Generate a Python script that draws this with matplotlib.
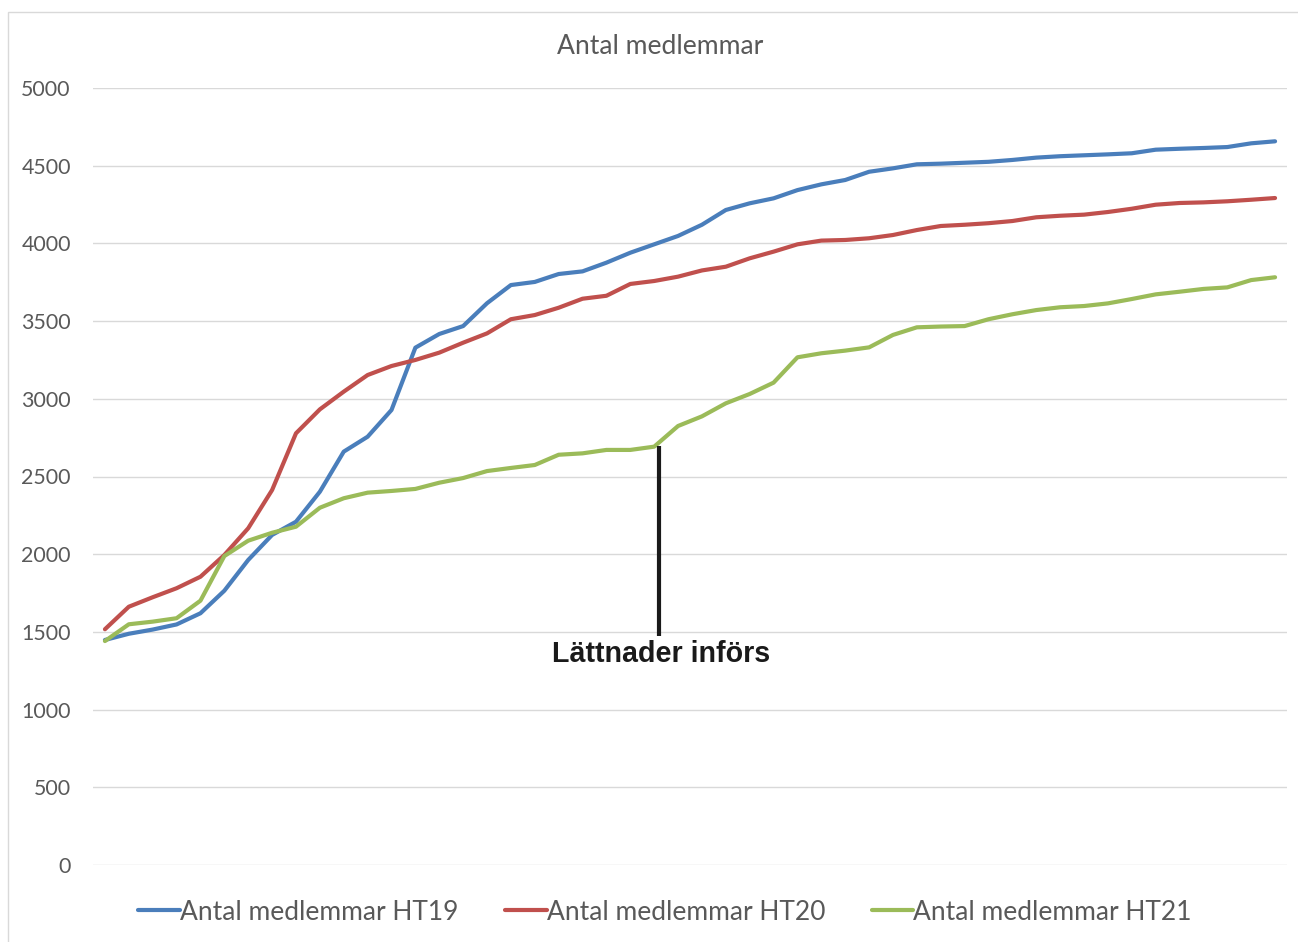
import matplotlib
matplotlib.use("Agg")
import matplotlib.pyplot as plt
import matplotlib.patches as mpatches
import numpy as np

title = "Antal medlemmar"
series_names = ["Antal medlemmar HT19", "Antal medlemmar HT20", "Antal medlemmar HT21"]
colors = ["#4A7EBB", "#C0504D", "#9BBB59"]

ht19 = [1448, 1488, 1515, 1548, 1620, 1765, 1963, 2124, 2209, 2402,
        2660, 2756, 2928, 3329, 3417, 3468, 3615, 3732, 3752, 3803,
        3820, 3876, 3940, 3994, 4048, 4120, 4215, 4258, 4290, 4343,
        4380, 4408, 4461, 4483, 4509, 4513, 4519, 4525, 4537, 4552,
        4561, 4567, 4573, 4580, 4603, 4609, 4614, 4620, 4644, 4657]
ht20 = [1517, 1662, 1723, 1781, 1855, 1995, 2167, 2413, 2778, 2932,
        3046, 3153, 3211, 3250, 3297, 3361, 3421, 3512, 3539, 3586,
        3644, 3663, 3739, 3758, 3786, 3826, 3850, 3904, 3947, 3994,
        4018, 4022, 4033, 4054, 4086, 4112, 4120, 4130, 4144, 4168,
        4178, 4185, 4202, 4223, 4249, 4260, 4264, 4271, 4281, 4292]
ht21 = [1441, 1549, 1566, 1588, 1701, 1988, 2087, 2138, 2177, 2299,
        2360, 2396, 2407, 2420, 2460, 2490, 2535, 2555, 2574, 2640,
        2649, 2671, 2671, 2692, 2825, 2887, 2971, 3031, 3104, 3267,
        3293, 3310, 3331, 3411, 3460, 3465, 3468, 3512, 3544, 3571,
        3589, 3597, 3614, 3642, 3672, 3689, 3707, 3717, 3764, 3782]
yticks = [0, 500, 1000, 1500, 2000, 2500, 3000, 3500, 4000, 4500, 5000]

annot_text = "Lättnader införs"
annot_x = 23.2
annot_y0, annot_y1 = 1474, 2695

plt.rcParams['font.family'] = ['Lato', 'DejaVu Sans']

W, H = 1298, 942
fig = plt.figure(figsize=(W / 100, H / 100), dpi=100)
ax = fig.add_axes([93 / W, (H - 865) / H, (1287 - 93) / W, (865 - 88) / H])

x = np.arange(len(ht19))
for vals, c, name in zip([ht19, ht20, ht21], colors, series_names):
    ax.plot(x, vals, color=c, lw=3.0, label=name, solid_capstyle='round',
            solid_joinstyle='round', zorder=3)

ax.set_xlim(-0.5, len(ht19) - 0.5)
ax.set_ylim(0, 5000)
ax.set_yticks(yticks)
ax.set_yticklabels([str(v) for v in yticks])
ax.set_xticks([])
ax.grid(axis='y', color='#D9D9D9', lw=1.0, zorder=0)
ax.tick_params(axis='y', length=0, pad=16, labelsize=15.4, labelcolor='#595959')
for s in ax.spines.values():
    s.set_visible(False)

# annotation
ax.plot([annot_x, annot_x], [annot_y0, annot_y1], color='#1a1a1a', lw=3.0,
        solid_capstyle='butt', zorder=4)
ax.text(annot_x + 0.08, annot_y0 - 28, annot_text, ha='center', va='top',
        fontsize=20.6, fontweight='bold', color='#1a1a1a',
        family=['Liberation Sans', 'DejaVu Sans'], zorder=5)

fig.text(660 / W, 1 - 47 / H, title, ha='center', va='center',
         fontsize=19.1, color='#595959')

leg = fig.legend(loc='center', bbox_to_anchor=(665 / W, 1 - 912 / H), ncol=3,
                 frameon=False, fontsize=19, handlelength=1.58,
                 handletextpad=0.0, columnspacing=1.77)
for t in leg.get_texts():
    t.set_color('#595959')

# outer chart border (light grey)
rect = mpatches.Rectangle((8 / W, -0.1), 2, 1.1 - 12 / H, transform=fig.transFigure,
                          fill=False, edgecolor='#D9D9D9', lw=1.0)
fig.patches.append(rect)

fig.savefig("out.png", dpi=100)
